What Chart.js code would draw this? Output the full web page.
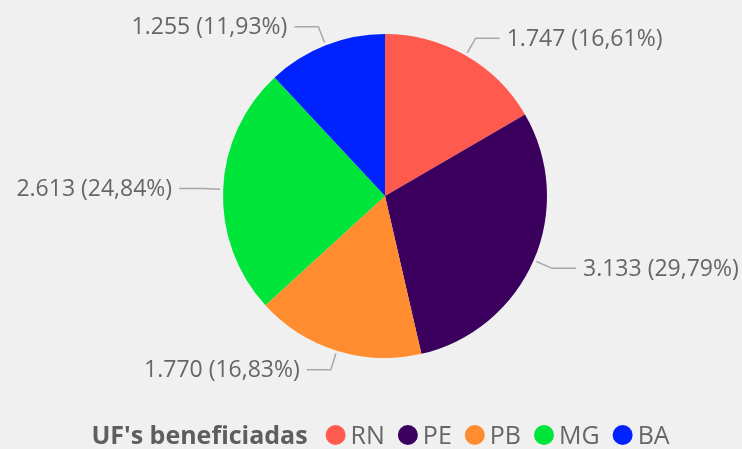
<!DOCTYPE html>
<html>
<head>
<meta charset="utf-8">
<script src="https://cdn.jsdelivr.net/npm/chart.js@4"></script>
<style>
  html, body { margin: 0; padding: 0; background: #f0f0f0; }
  #wrap { width: 742px; height: 449px; position: relative; }
</style>
</head>
<body>
<div id="wrap"><canvas id="myChart" width="742" height="449"></canvas></div>
<script>
// Chart data
const states = ['RN', 'PE', 'PB', 'MG', 'BA'];
const beneficiaries = [1747, 3133, 1770, 2613, 1255];
const sliceColors = ['#ff5a4e', '#3b005e', '#ff8c2e', '#00e53a', '#0022ff'];
const legendTitle = "UF's beneficiadas";

const textColor = '#666666';
const lineColor = '#a8a8a8';
const fontFamily = "'Open Sans', 'Noto Sans', sans-serif";

// 1747 -> "1.747", 16.609 -> "16,61"
function formatNumber(n) {
    return String(n).replace(/\B(?=(\d{3})+(?!\d))/g, '.');
}
function formatPercent(p) {
    return p.toFixed(2).replace('.', ',');
}

// Labels with elbow leader lines outside each slice
const outsideLabels = {
    id: 'outsideLabels',
    afterDatasetsDraw(chart) {
        const ctx = chart.ctx;
        const meta = chart.getDatasetMeta(0);
        const values = chart.data.datasets[0].data;
        const total = values.reduce((a, b) => a + b, 0);

        ctx.save();
        ctx.font = '23px ' + fontFamily;
        ctx.textBaseline = 'middle';
        ctx.strokeStyle = lineColor;
        ctx.lineWidth = 1.5;

        meta.data.forEach((arc, i) => {
            const mid = (arc.startAngle + arc.endAngle) / 2;
            const r = arc.outerRadius;
            const cos = Math.cos(mid), sin = Math.sin(mid);
            const x0 = arc.x + cos * (r + 3);
            const y0 = arc.y + sin * (r + 3);
            const x1 = arc.x + cos * (r + 20);
            const y1 = arc.y + sin * (r + 20);
            const right = cos >= 0;
            const x2 = x1 + (right ? 24 : -24);

            ctx.beginPath();
            ctx.moveTo(x0, y0);
            ctx.lineTo(x1, y1);
            ctx.lineTo(x2, y1);
            ctx.stroke();

            const label = formatNumber(values[i]) + ' (' + formatPercent(values[i] / total * 100) + '%)';
            ctx.fillStyle = textColor;
            ctx.textAlign = right ? 'left' : 'right';
            ctx.fillText(label, x2 + (right ? 7 : -7), y1 + 1);
        });
        ctx.restore();
    }
};

// Legend drawn in one row: bold title followed by circle markers
const inlineLegend = {
    id: 'inlineLegend',
    afterDraw(chart) {
        const ctx = chart.ctx;
        const y = 437;
        const dotR = 10;
        const dotGap = 5;
        const itemGap = 13;
        ctx.save();
        ctx.textBaseline = 'middle';

        ctx.font = 'bold 25px ' + fontFamily;
        const titleW = ctx.measureText(legendTitle).width;
        ctx.font = '25px ' + fontFamily;
        let itemsW = 0;
        const widths = states.map(s => ctx.measureText(s).width);
        widths.forEach(w => { itemsW += dotR * 2 + dotGap + w; });
        itemsW += itemGap * (states.length - 1);
        const totalW = titleW + 18 + itemsW;
        let x = 380.5 - totalW / 2;

        ctx.fillStyle = '#5e5e5e';
        ctx.font = 'bold 25px ' + fontFamily;
        ctx.textAlign = 'left';
        ctx.fillText(legendTitle, x, y);
        x += titleW + 18;

        ctx.font = '25px ' + fontFamily;
        states.forEach((s, i) => {
            ctx.fillStyle = sliceColors[i];
            ctx.beginPath();
            ctx.arc(x + dotR, y - 2, dotR, 0, Math.PI * 2);
            ctx.fill();
            x += dotR * 2 + dotGap;
            ctx.fillStyle = textColor;
            ctx.fillText(s, x, y);
            x += widths[i] + itemGap;
        });
        ctx.restore();
    }
};

const ctx = document.getElementById('myChart').getContext('2d');
const pieChart = new Chart(ctx, {
    type: 'pie',
    data: {
        labels: states,
        datasets: [{
            data: beneficiaries,
            backgroundColor: sliceColors,
            borderWidth: 0
        }]
    },
    options: {
        responsive: false,
        animation: false,
        layout: {
            padding: { top: 34, bottom: 91, left: 223, right: 195 }
        },
        plugins: {
            legend: { display: false },
            tooltip: { enabled: false }
        }
    },
    plugins: [outsideLabels, inlineLegend]
});
</script>
</body>
</html>
